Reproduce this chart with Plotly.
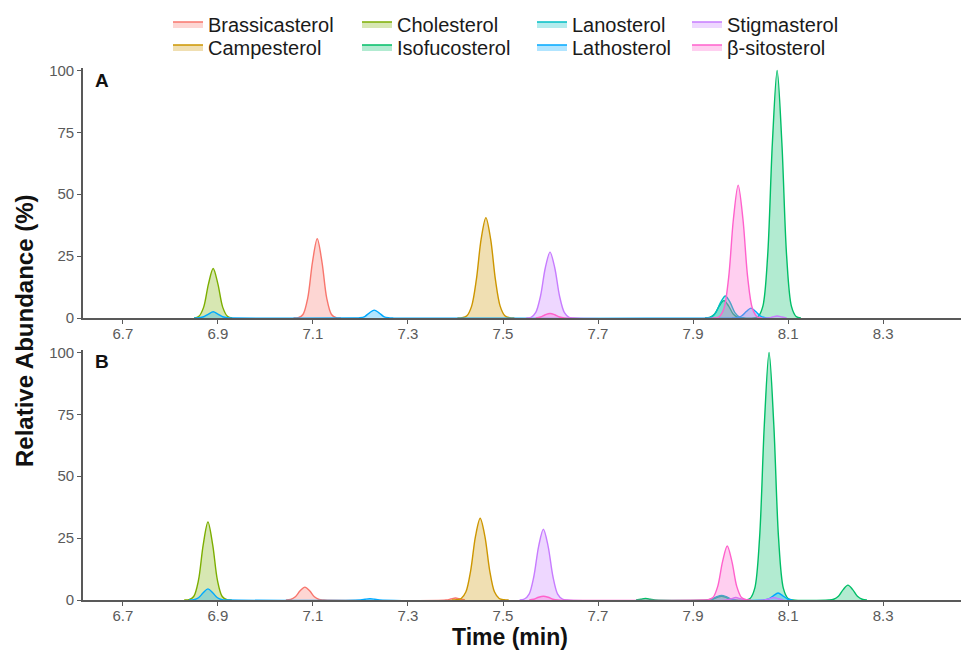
import plotly.graph_objects as go

# ---------------- data ----------------
compounds = ["Brassicasterol", "Campesterol", "Cholesterol", "Isofucosterol",
             "Lanosterol", "Lathosterol", "Stigmasterol", "β-sitosterol"]
colors = ["#F8766D", "#CD9600", "#7CAE00", "#00BE67",
          "#00BFC4", "#00A9FF", "#C77CFF", "#FF61CC"]
panel_labels = ["A", "B"]
x_ticks = [6.7, 6.9, 7.1, 7.3, 7.5, 7.7, 7.9, 8.1, 8.3]
y_ticks = [0, 25, 50, 75, 100]

# Panel A  (time in min, relative abundance in %)
A_brassicasterol_t = [7.059, 7.069, 7.079, 7.089, 7.099, 7.109, 7.119, 7.129, 7.139, 7.149, 7.159]
A_brassicasterol_y = [0, 0.1, 1.4, 8.0, 22.6, 32, 22.6, 8.0, 1.4, 0.1, 0]
A_campesterol_t = [7.404, 7.414, 7.424, 7.434, 7.444, 7.454, 7.464, 7.474, 7.484, 7.494, 7.504, 7.514, 7.524]
A_campesterol_y = [0, 0.1, 0.9, 4.8, 15.6, 31.9, 40.5, 31.9, 15.6, 4.8, 0.9, 0.1, 0]
A_cholesterol_t = [6.85, 6.86, 6.87, 6.88, 6.89, 6.90, 6.91, 6.92, 6.93]
A_cholesterol_y = [0, 0.7, 4.4, 13.7, 20, 13.7, 4.4, 0.7, 0]
A_isofucosterol_t = [7.925, 7.935, 7.945, 7.955, 7.965, 7.975, 7.985, 7.995, 8.005,
                     8.027, 8.037, 8.047, 8.057, 8.067, 8.077, 8.087, 8.097, 8.107, 8.117, 8.127]
A_isofucosterol_y = [0, 0.2, 1.5, 4.8, 7.0, 4.8, 1.5, 0.2, 0,
                     0, 0.6, 4.8, 25, 70.7, 100, 70.7, 25, 4.8, 0.6, 0]
A_lanosterol_t = [7.928, 7.938, 7.948, 7.958, 7.968, 7.978, 7.988, 7.998, 8.008]
A_lanosterol_y = [0, 0.4, 2.2, 6.3, 8.9, 6.3, 2.2, 0.4, 0]
A_lathosterol_t = [6.85, 6.86, 6.87, 6.88, 6.89, 6.90, 6.91, 6.92, 6.93,
                   7.189, 7.199, 7.209, 7.219, 7.229, 7.239, 7.249, 7.259, 7.269,
                   7.982, 7.992, 8.002, 8.012, 8.022, 8.032, 8.042, 8.052, 8.062]
A_lathosterol_y = [0, 0.1, 0.5, 1.6, 2.5, 1.6, 0.5, 0.1, 0,
                   0, 0.1, 0.6, 2.1, 3.2, 2.1, 0.6, 0.1, 0,
                   0, 0.1, 0.8, 2.6, 4.0, 2.6, 0.8, 0.1, 0]
A_stigmasterol_t = [7.549, 7.559, 7.569, 7.579, 7.589, 7.599, 7.609, 7.619, 7.629, 7.639, 7.649,
                    8.057, 8.067, 8.077, 8.087, 8.097]
A_stigmasterol_y = [0, 0.3, 2.3, 8.9, 20.2, 26.6, 20.2, 8.9, 2.3, 0.3, 0,
                    0, 0.4, 0.8, 0.4, 0]
A_sitosterol_t = [7.569, 7.579, 7.589, 7.599, 7.609, 7.619, 7.629,
                  7.945, 7.955, 7.965, 7.975, 7.985, 7.995, 8.005, 8.015, 8.025, 8.035, 8.045]
A_sitosterol_y = [0, 0.4, 1.3, 1.8, 1.3, 0.4, 0,
                  0, 0.5, 3.8, 16.4, 40, 53.7, 40, 16.4, 3.8, 0.5, 0]

# Panel B
B_brassicasterol_t = [7.043, 7.053, 7.063, 7.073, 7.083, 7.093, 7.103, 7.113, 7.123,
                      7.38, 7.39, 7.40, 7.41, 7.42]
B_brassicasterol_y = [0, 0.2, 1.3, 3.7, 5.2, 3.7, 1.3, 0.2, 0,
                      0, 0.4, 0.8, 0.4, 0]
B_campesterol_t = [7.392, 7.402, 7.412, 7.422, 7.432, 7.442, 7.452, 7.462, 7.472, 7.482, 7.492, 7.502, 7.512]
B_campesterol_y = [0, 0.1, 0.6, 3.3, 11.9, 25.6, 33, 25.6, 11.9, 3.3, 0.6, 0.1, 0]
B_cholesterol_t = [6.829, 6.839, 6.849, 6.859, 6.869, 6.879, 6.889, 6.899, 6.909, 6.919, 6.929]
B_cholesterol_y = [0, 0.1, 1.4, 7.9, 22.3, 31.5, 22.3, 7.9, 1.4, 0.1, 0]
B_isofucosterol_t = [7.78, 7.79, 7.80, 7.81, 7.82,
                     7.93, 7.94, 7.95, 7.96, 7.97, 7.98, 7.99,
                     8.010, 8.020, 8.030, 8.040, 8.050, 8.060, 8.070, 8.080, 8.090, 8.100, 8.110,
                     8.186, 8.196, 8.206, 8.216, 8.226, 8.236, 8.246, 8.256, 8.266]
B_isofucosterol_y = [0, 0.3, 0.6, 0.3, 0,
                     0, 0.3, 1.0, 1.5, 1.0, 0.3, 0,
                     0, 0.6, 4.8, 25, 70.7, 100, 70.7, 25, 4.8, 0.6, 0,
                     0, 0.3, 1.5, 4.2, 6.0, 4.2, 1.5, 0.3, 0]
B_lanosterol_t = [7.93, 7.94, 7.95, 7.96, 7.97, 7.98, 7.99]
B_lanosterol_y = [0, 0.4, 1.3, 1.8, 1.3, 0.4, 0]
B_lathosterol_t = [6.839, 6.849, 6.859, 6.869, 6.879, 6.889, 6.899, 6.909, 6.919,
                   7.20, 7.21, 7.22, 7.23, 7.24,
                   8.049, 8.059, 8.069, 8.079, 8.089, 8.099, 8.109]
B_lathosterol_y = [0, 0.1, 0.9, 2.9, 4.5, 2.9, 0.9, 0.1, 0,
                   0, 0.3, 0.5, 0.3, 0,
                   0, 0.4, 1.7, 2.8, 1.7, 0.4, 0]
B_stigmasterol_t = [7.535, 7.545, 7.555, 7.565, 7.575, 7.585, 7.595, 7.605, 7.615, 7.625, 7.635,
                    7.97, 7.98, 7.99, 8.00, 8.01,
                    8.05, 8.06, 8.07, 8.08, 8.09]
B_stigmasterol_y = [0, 0.4, 2.4, 9.6, 21.7, 28.6, 21.7, 9.6, 2.4, 0.4, 0,
                    0, 0.5, 1.0, 0.5, 0,
                    0, 0.5, 1.0, 0.5, 0]
B_sitosterol_t = [7.555, 7.565, 7.575, 7.585, 7.595, 7.605, 7.615,
                  7.922, 7.932, 7.942, 7.952, 7.962, 7.972, 7.982, 7.992, 8.002, 8.012, 8.022]
B_sitosterol_y = [0, 0.3, 1.1, 1.5, 1.1, 0.3, 0,
                  0, 0.1, 1.0, 5.5, 15.4, 21.8, 15.4, 5.5, 1.0, 0.1, 0]

panel_A = [(A_brassicasterol_t, A_brassicasterol_y), (A_campesterol_t, A_campesterol_y),
           (A_cholesterol_t, A_cholesterol_y), (A_isofucosterol_t, A_isofucosterol_y),
           (A_lanosterol_t, A_lanosterol_y), (A_lathosterol_t, A_lathosterol_y),
           (A_stigmasterol_t, A_stigmasterol_y), (A_sitosterol_t, A_sitosterol_y)]
panel_B = [(B_brassicasterol_t, B_brassicasterol_y), (B_campesterol_t, B_campesterol_y),
           (B_cholesterol_t, B_cholesterol_y), (B_isofucosterol_t, B_isofucosterol_y),
           (B_lanosterol_t, B_lanosterol_y), (B_lathosterol_t, B_lathosterol_y),
           (B_stigmasterol_t, B_stigmasterol_y), (B_sitosterol_t, B_sitosterol_y)]

# ---------------- figure ----------------
W, H = 961, 650
ML, MR, MT, MB = 83, 0, 60, 50
PW, PH = W - ML - MR, H - MT - MB
FONT = "Liberation Sans, Arial, sans-serif"


def px_x(p):
    return (p - ML) / PW


def px_y(p):
    return (H - MB - p) / PH


def rgba(hexc, a):
    h = hexc.lstrip("#")
    return "rgba(%d,%d,%d,%.2f)" % (int(h[0:2], 16), int(h[2:4], 16), int(h[4:6], 16), a)


fig = go.Figure()
legend_names = ["legend", "legend3", "legend5", "legend7",
                "legend2", "legend4", "legend6", "legend8"]
for panel_idx, panel in enumerate([panel_A, panel_B]):
    xa = "x" if panel_idx == 0 else "x2"
    ya = "y" if panel_idx == 0 else "y2"
    for i, (t, y) in enumerate(panel):
        fig.add_trace(go.Scatter(
            x=t, y=y, mode="lines", name=compounds[i],
            line=dict(color=colors[i], width=1.4, shape="spline", smoothing=0.9),
            fill="tozeroy", fillcolor=rgba(colors[i], 0.3),
            xaxis=xa, yaxis=ya,
            showlegend=(panel_idx == 0),
            legend=legend_names[i],
            hoverinfo="x+y+name",
        ))

axis_common = dict(
    showgrid=False, zeroline=False, showline=True, linecolor="#595959", linewidth=1.6,
    ticks="outside", ticklen=4, tickwidth=1.2, tickcolor="#595959",
    tickfont=dict(family=FONT, size=15, color="#5a5a5a"),
)
x_range = [6.616, 8.464]
y_range = [0, 101]
dom_A = [px_y(318), px_y(68)]
dom_B = [px_y(600), px_y(350)]

fig.update_layout(
    xaxis=dict(domain=[0, 1], range=x_range, tickvals=x_ticks,
               ticktext=["%.1f" % v for v in x_ticks], anchor="y",
               ticklabelstandoff=-3, **axis_common),
    yaxis=dict(domain=dom_A, range=y_range, tickvals=y_ticks, anchor="x", **axis_common),
    xaxis2=dict(domain=[0, 1], range=x_range, tickvals=x_ticks,
                ticktext=["%.1f" % v for v in x_ticks], anchor="y2",
                ticklabelstandoff=-3, **axis_common),
    yaxis2=dict(domain=dom_B, range=y_range, tickvals=y_ticks, anchor="x2", **axis_common),
)

# legends: 4 columns x 2 rows (column-major like the reference)
col_text_px = [208, 397, 572, 727]
row_center_px = [24, 47]
legend_font = dict(family=FONT, size=20, color="#1a1a1a")
legend_layout = {}
for i in range(8):
    col, row = i // 2, i % 2
    legend_layout[legend_names[i]] = dict(
        x=px_x(col_text_px[col] - 40), y=px_y(row_center_px[row]),
        xanchor="left", yanchor="middle", orientation="v",
        font=legend_font, bgcolor="rgba(0,0,0,0)", borderwidth=0,
        itemwidth=30, tracegroupgap=0,
    )
fig.update_layout(**legend_layout)

annotations = []
for k, lab in enumerate(panel_labels):
    annotations.append(dict(
        text="<b>%s</b>" % lab, xref="x domain" if k == 0 else "x2 domain",
        yref="y domain" if k == 0 else "y2 domain",
        x=0.0114, y=0.952, xanchor="left", yanchor="middle", showarrow=False,
        font=dict(family=FONT, size=19, color="#111111"),
    ))
annotations.append(dict(
    text="<b>Relative Abundance (%)</b>", xref="paper", yref="paper",
    x=px_x(25), y=px_y(331), textangle=-90, showarrow=False,
    xanchor="center", yanchor="middle",
    font=dict(family=FONT, size=24, color="#111111"),
))
annotations.append(dict(
    text="<b>Time (min)</b>", xref="paper", yref="paper",
    x=px_x(510), y=px_y(637), showarrow=False,
    xanchor="center", yanchor="middle",
    font=dict(family=FONT, size=23, color="#111111"),
))

fig.update_layout(
    width=W, height=H,
    margin=dict(l=ML, r=MR, t=MT, b=MB),
    paper_bgcolor="white", plot_bgcolor="white",
    annotations=annotations,
    font=dict(family=FONT),
)

fig.write_html("out.html")
